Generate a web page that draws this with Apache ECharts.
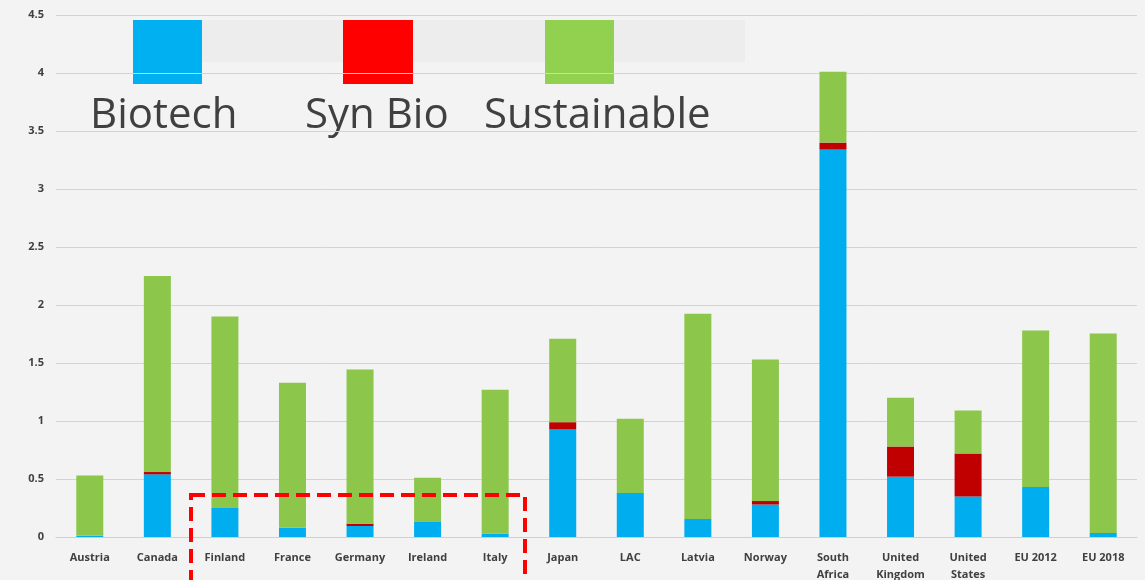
<!DOCTYPE html>
<html lang="en">
<head>
    <meta charset="UTF-8">
    <script src="https://cdn.jsdelivr.net/npm/echarts@6/dist/echarts.min.js"></script>
    <title>Biotech / Syn Bio / Sustainable</title>
    <style>
        html, body { margin: 0; padding: 0; background: #f3f3f3; }
    </style>
</head>
<body>
<div id="main" style="width: 1145px;height:580px;"></div>
<script type="text/javascript">

    // categories along x
    var countries = ['Austria', 'Canada', 'Finland', 'France', 'Germany', 'Ireland', 'Italy', 'Japan',
        'LAC', 'Latvia', 'Norway', 'South\nAfrica', 'United\nKingdom', 'United\nStates', 'EU 2012', 'EU 2018'];

    // stacked values
    var biotech     = [0.01, 0.54, 0.25, 0.08, 0.095, 0.13, 0.03, 0.93, 0.38, 0.155, 0.28, 3.34, 0.52, 0.35, 0.43, 0.035];
    var synBio      = [0, 0.02, 0, 0, 0.02, 0, 0, 0.06, 0, 0, 0.03, 0.06, 0.26, 0.37, 0, 0];
    var sustainable = [0.52, 1.69, 1.65, 1.25, 1.33, 0.38, 1.24, 0.72, 0.64, 1.77, 1.22, 0.61, 0.42, 0.37, 1.35, 1.72];

    var yTicks = [0, 0.5, 1, 1.5, 2, 2.5, 3, 3.5, 4, 4.5];

    var myChart = echarts.init(document.getElementById('main'));

    var labelFont = '"Open Sans", "DejaVu Sans", sans-serif';

    var option = {
        backgroundColor: '#f3f3f3',
        animation: false,
        grid: { left: 56, right: 8, top: 15, bottom: 43, outerBoundsMode: 'none' },
        xAxis: {
            type: 'category',
            data: countries,
            axisLine: { show: true, lineStyle: { color: '#cfcfcf', width: 1 } },
            axisTick: { show: false },
            axisLabel: {
                color: '#404040', fontSize: 11, fontWeight: 'bold', fontFamily: labelFont,
                margin: 12, lineHeight: 17, interval: 0
            }
        },
        yAxis: {
            type: 'value',
            min: yTicks[0],
            max: yTicks[yTicks.length - 1],
            interval: 0.5,
            axisLine: { show: false },
            axisTick: { show: false },
            splitLine: { lineStyle: { color: '#d3d3d3', width: 1 } },
            axisLabel: {
                color: '#404040', fontSize: 11, fontWeight: 'bold', fontFamily: labelFont, margin: 12
            }
        },
        series: [
            { name: 'Biotech', type: 'bar', stack: 'total', data: biotech, barWidth: 27,
                itemStyle: { color: '#00aeef' } },
            { name: 'Syn Bio', type: 'bar', stack: 'total', data: synBio, barWidth: 27,
                itemStyle: { color: '#c00000' } },
            { name: 'Sustainable', type: 'bar', stack: 'total', data: sustainable, barWidth: 27,
                itemStyle: { color: '#8cc64b' } }
        ],
        graphic: [
            // legend panel
            { type: 'rect', shape: { x: 133, y: 20, width: 612, height: 42 }, style: { fill: '#ededed' }, silent: true },
            { type: 'rect', shape: { x: 133, y: 20, width: 69, height: 64 }, style: { fill: '#00b0f0' } },
            { type: 'rect', shape: { x: 343, y: 20, width: 70, height: 64 }, style: { fill: '#ff0000' } },
            { type: 'rect', shape: { x: 545, y: 20, width: 69, height: 64 }, style: { fill: '#92d050' } },
            { type: 'text', x: 90, y: 95, style: { text: 'Biotech', fontSize: 42, fontFamily: labelFont, fill: '#404040' } },
            { type: 'text', x: 305, y: 95, style: { text: 'Syn Bio', fontSize: 42, fontFamily: labelFont, fill: '#404040' } },
            { type: 'text', x: 484, y: 95, style: { text: 'Sustainable', fontSize: 42, fontFamily: labelFont, fill: '#404040' } },
            // dashed highlight box
            { type: 'rect', shape: { x: 191, y: 495, width: 334, height: 120 },
                style: { fill: 'none', stroke: '#ff0000', lineWidth: 4, lineDash: [14, 7] }, z: 100 }
        ]
    };

    myChart.setOption(option);

</script>
</body>
</html>
